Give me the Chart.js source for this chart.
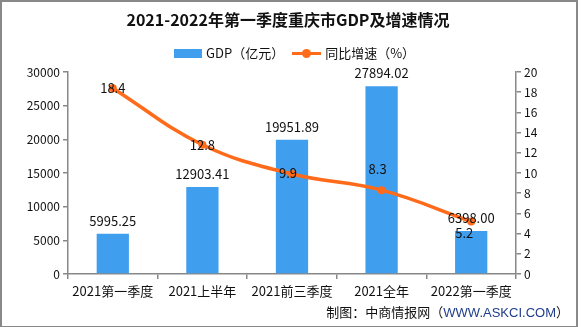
<!DOCTYPE html>
<html>
<head>
<meta charset="utf-8">
<script src="https://cdn.jsdelivr.net/npm/chart.js@4/dist/chart.umd.min.js"></script>
<style>
body { margin: 0; background: #fff; }
#wrap { position: relative; width: 585px; height: 327px; font-family: "Noto Sans CJK SC", sans-serif; }
#frame { position: absolute; left: 0; top: 0; width: 574px; height: 324px; border: 2px solid #888; box-sizing: content-box; }
#title { position: absolute; left: 0; width: 576px; top: 8px; text-align: center; font-size: 16px; font-weight: bold; color: #111; line-height: 22px; }
#legend { position: absolute; top: 43px; left: 174px; height: 18px; font-size: 13px; line-height: 18px; color: #111; white-space: nowrap; }
#legend span { display: inline-block; vertical-align: middle; }
.box { width: 28px; height: 9px; background: #409EEF; margin-right: 4px; }
.ln { position: relative; width: 29px; height: 3px; background: #FF6B1A; margin: 0 4px 0 8px; }
.ln:after { content: ""; position: absolute; left: 10px; top: -3px; width: 9px; height: 9px; border-radius: 50%; background: #FF6B1A; }
#foot { position: absolute; right: 16px; top: 302px; font-size: 13px; line-height: 20px; color: #111; white-space: nowrap; }
#foot b { font-weight: normal; color: #1F3D8A; font-family: "Liberation Sans", sans-serif; font-size: 13px; }
canvas { position: absolute; left: 0; top: 0; }
</style>
</head>
<body>
<div id="wrap">
  <canvas id="my_Chart" width="585" height="327"></canvas>
  <div id="frame"></div>
  <div id="title">2021-2022年第一季度重庆市GDP及增速情况</div>
  <div id="legend"><span class="box"></span><span>GDP（亿元）</span><span class="ln"></span><span>同比增速（%）</span></div>
  <div id="foot">制图：中商情报网（<b>WWW.ASKCI.COM</b>）</div>
</div>
<script>
var Labels = ['2021第一季度', '2021上半年', '2021前三季度', '2021全年', '2022第一季度'];
var gdpValues = [5995.25, 12903.41, 19951.89, 27894.02, 6398.00];
var growthValues = [18.4, 12.8, 9.9, 8.3, 5.2];
var gdpTicks = [0, 5000, 10000, 15000, 20000, 25000, 30000];
var growthTicks = [0, 2, 4, 6, 8, 10, 12, 14, 16, 18, 20];

var fontFam = '"Noto Sans CJK SC", sans-serif';

// label placement tweaks (px) for the growth line labels
var lineLabelDx = [0, 0, -4, -4, -7];
var lineLabelDy = [0, 0, -1, -21, 12];

var valueLabels = {
	id: 'valueLabels',
	afterDatasetsDraw: function(chart) {
		var ctx = chart.ctx;
		ctx.save();
		ctx.font = '13px ' + fontFam;
		ctx.fillStyle = '#111';
		ctx.textAlign = 'center';
		ctx.textBaseline = 'middle';
		var barMeta = chart.getDatasetMeta(1);
		barMeta.data.forEach(function(el, i) {
			ctx.fillText(gdpValues[i].toFixed(2), el.x, el.y - 13);
		});
		var lineMeta = chart.getDatasetMeta(0);
		lineMeta.data.forEach(function(el, i) {
			ctx.fillText(growthValues[i].toFixed(1), el.x + lineLabelDx[i], el.y + lineLabelDy[i]);
		});
		ctx.restore();
	}
};

var axisColor = '#888';
function plainTick(v) { return String(v); }

var ctx = document.getElementById('my_Chart').getContext('2d');
var myChart = new Chart(ctx, {
	type: 'bar',
	data: {
		labels: Labels,
		datasets: [{
			type: 'line',
			label: '同比增速（%）',
			data: growthValues,
			yAxisID: 'y1',
			borderColor: '#FF6B1A',
			backgroundColor: '#FF6B1A',
			borderWidth: 3.5,
			pointRadius: 4,
			pointBackgroundColor: '#FF6B1A',
			pointBorderWidth: 0,
			tension: 0.4,
			order: 0
		}, {
			type: 'bar',
			label: 'GDP（亿元）',
			data: gdpValues,
			yAxisID: 'y',
			backgroundColor: '#409EEF',
			barPercentage: 0.36,
			categoryPercentage: 1,
			order: 1
		}]
	},
	options: {
		responsive: false,
		animation: false,
		layout: { padding: { top: 72, left: 0, right: 0, bottom: 0 } },
		plugins: {
			legend: { display: false },
			title: { display: false },
			tooltip: { enabled: false }
		},
		scales: {
			x: {
				grid: { offset: true, drawOnChartArea: false, tickLength: 5, color: axisColor, lineWidth: 1.5 },
				border: { color: axisColor, width: 1.5 },
				ticks: { color: '#111', font: { family: fontFam, size: 13 }, padding: 4, maxRotation: 0 },
				afterFit: function(s) { s.height = 53; }
			},
			y: {
				position: 'left',
				min: 0, max: 30000,
				afterBuildTicks: function(s) { s.ticks = gdpTicks.map(function(v) { return { value: v }; }); },
				grid: { drawOnChartArea: false, tickLength: 5, color: axisColor, lineWidth: 1.5 },
				border: { color: axisColor, width: 1.5 },
				ticks: { color: '#111', font: { family: fontFam, size: 12 }, padding: 3, callback: plainTick },
				afterFit: function(s) { s.width = 68; }
			},
			y1: {
				position: 'right',
				min: 0, max: 20,
				afterBuildTicks: function(s) { s.ticks = growthTicks.map(function(v) { return { value: v }; }); },
				grid: { drawOnChartArea: false, tickLength: 5, color: axisColor, lineWidth: 1.5 },
				border: { color: axisColor, width: 1.5 },
				ticks: { color: '#111', font: { family: fontFam, size: 12 }, padding: 3, callback: plainTick },
				afterFit: function(s) { s.width = 69; }
			}
		}
	},
	plugins: [valueLabels]
});
</script>
</body>
</html>
